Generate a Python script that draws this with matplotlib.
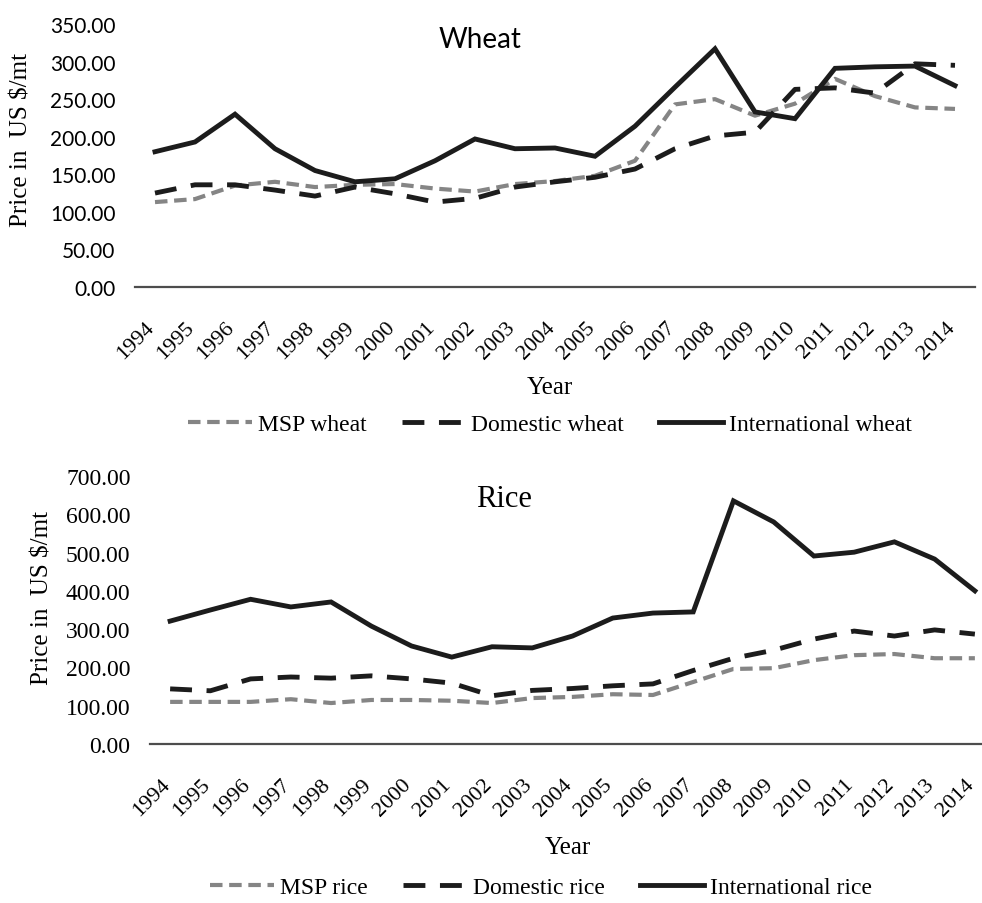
import matplotlib
matplotlib.use("Agg")
import matplotlib.pyplot as plt
import numpy as np

years = [str(y) for y in range(1994, 2015)]

msp_wheat = [113, 117, 135, 140, 133, 136, 137, 131, 127, 137, 141, 148, 168, 243, 250, 228, 244, 277, 254, 239, 237]
dom_wheat = [125, 136, 136, 129, 121, 133, 124, 113, 118, 133, 140, 146, 157, 184, 201, 206, 263, 265, 258, 297, 295]
int_wheat = [180, 193, 230, 184, 155, 140, 144, 168, 197, 184, 185, 174, 214, 266, 317, 233, 224, 291, 293, 294, 268]

msp_rice = [110, 110, 110, 117, 107, 115, 115, 113, 107, 120, 123, 130, 128, 162, 196, 198, 219, 232, 235, 224, 224]
dom_rice = [144, 139, 170, 175, 172, 178, 170, 159, 126, 140, 145, 152, 157, 192, 224, 245, 274, 295, 282, 298, 287]
int_rice = [321, 350, 378, 358, 371, 308, 256, 227, 254, 251, 282, 329, 342, 345, 635, 580, 491, 501, 528, 483, 400]

SERIF = "Liberation Serif"
SANS = "Lato"
GREY = "#858585"
DARK = "#1c1c1c"

fig = plt.figure(figsize=(9.82, 9.04), dpi=100)


def panel(rect, series, names, ymax, ystep, tick_font, tick_size, title, title_font, title_size, title_xy, ylab_xy, year_y, leg_xy):
    ax = fig.add_axes(rect)
    x = np.arange(len(years))
    styles = [
        dict(color=GREY, lw=3.0, dashes=(3.0, 1.6)),
        dict(color=DARK, lw=3.5, dashes=(4.5, 3.0)),
        dict(color=DARK, lw=3.5, linestyle="-"),
    ]
    for vals, name, st in zip(series, names, styles):
        ax.plot(x, vals, label=name, solid_joinstyle="miter", **st)
    ax.set_xlim(-0.5, len(years) - 0.5)
    ax.set_ylim(0, ymax)
    yt = np.arange(0, ymax + 1, ystep)
    ax.set_yticks(yt)
    ax.set_yticklabels([f"{v:.2f}" for v in yt], fontfamily=tick_font, fontsize=tick_size)
    ax.set_xticks(x)
    ax.set_xticklabels(years, rotation=45, ha="right", va="baseline", rotation_mode="anchor",
                       fontfamily=SERIF, fontsize=16)
    ax.tick_params(axis="both", length=0)
    ax.tick_params(axis="y", pad=14)
    ax.tick_params(axis="x", pad=29)
    for s in ["top", "right", "left"]:
        ax.spines[s].set_visible(False)
    ax.spines["bottom"].set_color("#4d4d4d")
    ax.spines["bottom"].set_linewidth(1.6)
    fig.text(title_xy[0] / 982, 1 - title_xy[1] / 904, title, fontfamily=title_font,
             fontsize=title_size, ha="center", va="center")
    fig.text(ylab_xy[0] / 982, 1 - ylab_xy[1] / 904, "Price in  US $/mt", rotation=90,
             fontfamily=SERIF, fontsize=18, ha="center", va="center")
    fig.text(rect[0] + rect[2] / 2 - 0.005, 1 - year_y / 904, "Year", fontfamily=SERIF,
             fontsize=18, ha="center", va="center")
    fig.legend(*ax.get_legend_handles_labels(), loc="center",
               bbox_to_anchor=(leg_xy[0] / 982, 1 - leg_xy[1] / 904), ncol=3,
               frameon=False, prop=dict(family=SERIF, size=17), handlelength=2.7,
               handletextpad=0.25, columnspacing=1.5)
    return ax


panel([135 / 982, 1 - 288 / 904, 840 / 982, 263 / 904],
      [msp_wheat, dom_wheat, int_wheat], ["MSP wheat", "Domestic wheat", "International wheat"],
      350, 50, SANS, 15, "Wheat", SANS, 20, (480, 40), (22, 140), 388, (550, 425))

panel([150 / 982, 1 - 745 / 904, 845 / 982, 268 / 904],
      [msp_rice, dom_rice, int_rice], ["MSP rice", "Domestic rice", "International rice"],
      700, 100, SERIF, 17, "Rice", SERIF, 22, (504, 500), (43, 598), 848, (541, 888))

fig.savefig("out.png", dpi=100)
